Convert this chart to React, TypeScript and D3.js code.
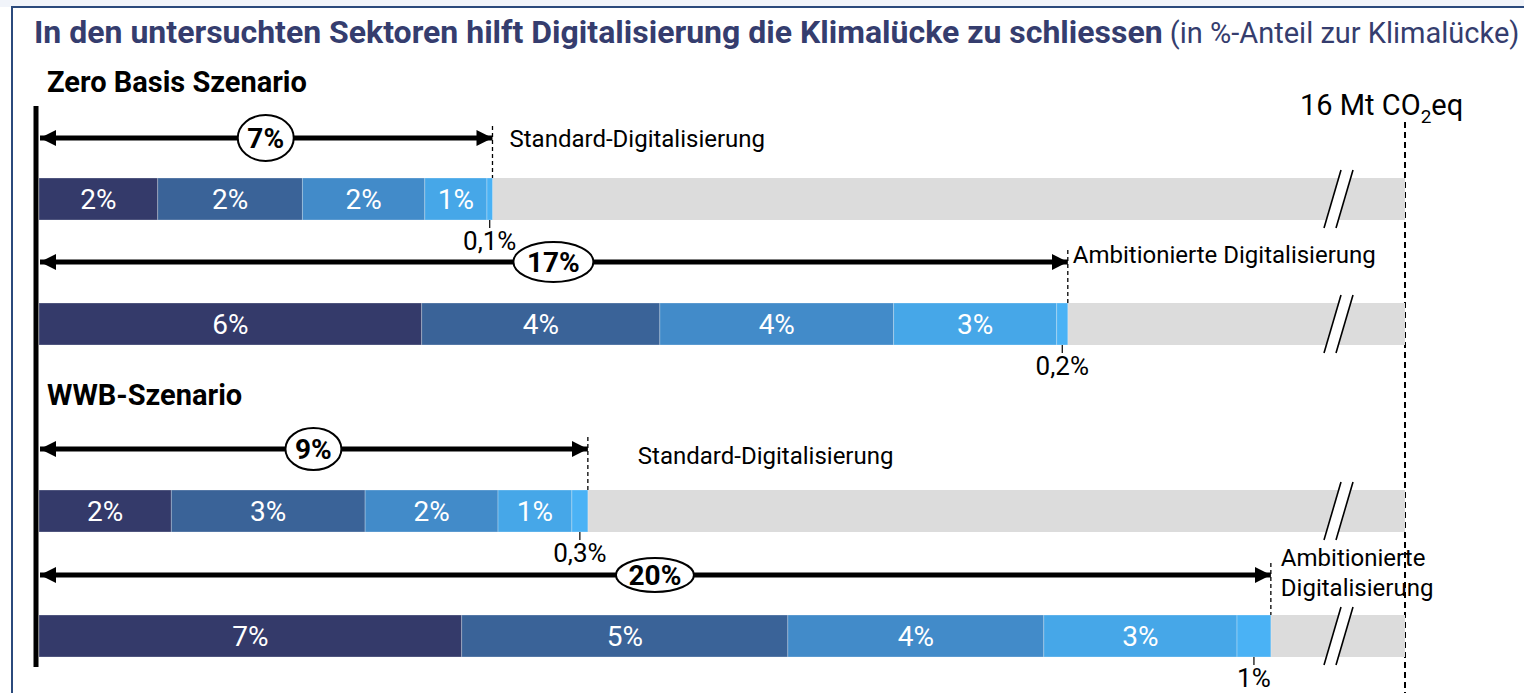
import React from 'react';
import * as d3 from 'd3';

// values (% share of the climate gap, 16 Mt CO2eq)
const rowNames = ['Standard-Digitalisierung', 'Ambitionierte Digitalisierung', 'Standard-Digitalisierung', 'Ambitionierte Digitalisierung'];
const totalLabels = ['7%', '17%', '9%', '20%'];
const segmentValues = [
  [1.93, 2.35, 1.99, 1.01, 0.09],
  [6.22, 3.87, 3.8, 2.65, 0.18],
  [2.15, 3.15, 2.16, 1.2, 0.26],
  [6.87, 5.3, 4.16, 3.14, 0.55],
];
const segmentLabels = [
  ['2%', '2%', '2%', '1%', '0,1%'],
  ['6%', '4%', '4%', '3%', '0,2%'],
  ['2%', '3%', '2%', '1%', '0,3%'],
  ['7%', '5%', '4%', '3%', '1%'],
];
const groupTitles = ['Zero Basis Szenario', 'WWB-Szenario'];
const axisEnd = 22.2; // visible end of the (broken) axis = 16 Mt CO2eq

const colors = ['#343a6a', '#3a6398', '#428bc9', '#46a7e8', '#4ab2f5'];

// layout
const W = 1524, H = 693;
const barTops = [178, 303, 490, 615];
const arrowYs = [138, 262, 449, 575];
const barH = 42;
const nameOffsets = [
  { dx: 17, y: 147 },
  { dx: 5, y: 263 },
  { dx: 50, y: 464 },
  { dx: 10, y: 566 },
];
const ellipseR = [
  [28, 23],
  [40, 20],
  [28, 21],
  [39, 17],
];
const groupTitleY = [92, 405];
const font = 'Roboto, "Noto Sans", sans-serif';

export default function App() {
  const x = d3.scaleLinear().domain([0, axisEnd]).range([39, 1405]);

  return (
    <svg width={W} height={H} style={{ position: 'absolute', left: 0, top: 0, display: 'block', background: '#fff' }} fontFamily={font}>
      <defs>
        <marker id="ah" viewBox="0 0 10 10" refX="10" refY="5" markerWidth="3.2" markerHeight="3.4" orient="auto-start-reverse" markerUnits="strokeWidth">
          <path d="M0,0 L10,5 L0,10 Z" fill="#000" />
        </marker>
      </defs>
      {/* frame */}
      <rect x={0} y={0} width={W} height={7} fill="#f1f4fa" />
      <rect x={12} y={7} width={W} height={H} fill="#fff" stroke="#2b4a7c" strokeWidth={2} />

      <text x={34} y={43} fontSize={32} fill="#353d6e">
        <tspan fontWeight="bold">In den untersuchten Sektoren hilft Digitalisierung die Klimalücke zu schliessen</tspan>
        <tspan fontSize={29}> (in %-Anteil zur Klimalücke)</tspan>
      </text>

      {groupTitles.map((t, i) => (
        <text key={t} x={47} y={groupTitleY[i]} fontSize={29} fontWeight="bold" fill="#000">{t}</text>
      ))}

      <text x={1300} y={115} fontSize={29} fill="#000">
        16 Mt CO<tspan fontSize={19} dy={8}>2</tspan><tspan dy={-8}>eq</tspan>
      </text>
      <line x1={x(axisEnd)} x2={x(axisEnd)} y1={122} y2={H} stroke="#000" strokeWidth={2} strokeDasharray="6,4" />

      {segmentValues.map((vals, r) => {
        const top = barTops[r];
        const cum = d3.cumsum(vals);
        const total = cum[cum.length - 1];
        const end = x(total);
        const ay = arrowYs[r];
        const mid = (x(0) + end) / 2;
        const n = nameOffsets[r];
        const bx = 1324;
        return (
          <g key={r}>
            <rect x={x(0)} y={top} width={x(axisEnd) - x(0)} height={barH} fill="#dcdcdc" />
            {vals.map((v, i) => {
              const x0 = x(cum[i] - v);
              const x1 = x(cum[i]);
              const last = i === vals.length - 1;
              return (
                <g key={i}>
                  <rect x={x0} y={top} width={x1 - x0} height={barH} fill={colors[i]} stroke="#ffffff" strokeOpacity={0.35} strokeWidth={0.8} />
                  {last ? (
                    <g>
                      <line x1={(x0 + x1) / 2} x2={(x0 + x1) / 2} y1={top + barH} y2={top + barH + 8} stroke="#000" strokeWidth={1.2} />
                      <text x={(x0 + x1) / 2} y={top + barH + 30} textAnchor="middle" fontSize={26} fill="#000">{segmentLabels[r][i]}</text>
                    </g>
                  ) : (
                    <text x={(x0 + x1) / 2} y={top + 31} textAnchor="middle" fontSize={28} fill="#fff">{segmentLabels[r][i]}</text>
                  )}
                </g>
              );
            })}
            {/* axis break */}
            <polygon points={`${bx},${top + barH + 8} ${bx + 17},${top - 8} ${bx + 29},${top - 8} ${bx + 12},${top + barH + 8}`} fill="#fff" />
            <line x1={bx} y1={top + barH + 8} x2={bx + 17} y2={top - 8} stroke="#000" strokeWidth={1.6} />
            <line x1={bx + 12} y1={top + barH + 8} x2={bx + 29} y2={top - 8} stroke="#000" strokeWidth={1.6} />

            {/* total arrow */}
            <line x1={end} x2={end} y1={ay - 12} y2={top} stroke="#000" strokeWidth={1.3} strokeDasharray="4,3" />
            <line x1={x(0) + 1} x2={end} y1={ay} y2={ay} stroke="#000" strokeWidth={5} markerStart="url(#ah)" markerEnd="url(#ah)" />
            <ellipse cx={mid} cy={ay} rx={ellipseR[r][0]} ry={ellipseR[r][1]} fill="#fff" stroke="#000" strokeWidth={2} />
            <text x={mid} y={ay + 10} textAnchor="middle" fontSize={28} fontWeight="bold" fill="#000">{totalLabels[r]}</text>

            {r === 3 ? (
              <text x={end + n.dx} y={n.y} fontSize={24} fill="#000">
                {rowNames[r].split(' ').map((w, k) => (
                  <tspan key={k} x={end + n.dx} dy={k === 0 ? 0 : 30}>{w}</tspan>
                ))}
              </text>
            ) : (
              <text x={end + n.dx} y={n.y} fontSize={24} fill="#000">{rowNames[r]}</text>
            )}
          </g>
        );
      })}

      {/* vertical axis */}
      <line x1={36} x2={36} y1={106} y2={667} stroke="#000" strokeWidth={5} />
    </svg>
  );
}
